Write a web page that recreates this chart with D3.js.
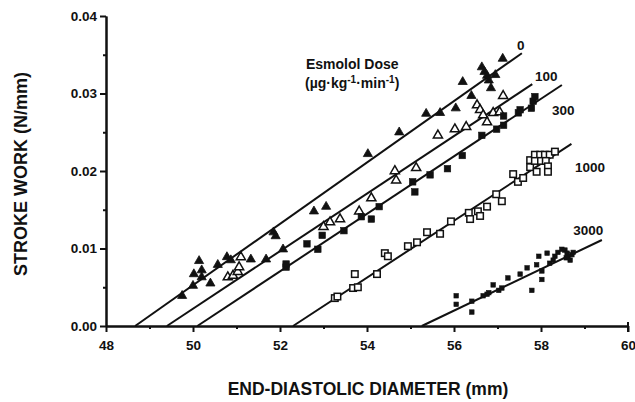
<!DOCTYPE html>
<html><head><meta charset="utf-8">
<script src="https://cdn.jsdelivr.net/npm/d3@7"></script>
<style>
body{margin:0;background:#fff;}
text{font-family:"Liberation Sans",Arial,sans-serif;fill:#111;}
</style></head>
<body><svg id="c" width="635" height="402"></svg>
<script>
// ---- Data ----
const doses = ["0","100","300","1000","3000"];
const xTicks = [48,50,52,54,56,58,60];
const yTicks = [0.00,0.01,0.02,0.03,0.04];

// dose 0: filled triangles [EDD mm, SW N/mm]
const dose0 = [[49.75,0.0039],[50.0,0.0052],[50.02,0.0067],[50.14,0.0084],[50.2,0.0072],[50.2,0.0063],[50.4,0.0055],
 [50.57,0.0079],[50.78,0.0089],[50.87,0.0085],[51.33,0.0086],[51.68,0.0086],[52.07,0.0099],[51.85,0.0121],[51.9,0.0116],
 [52.78,0.0148],[53.06,0.0154],[54.02,0.0222],[54.74,0.025],[55.36,0.0274],[55.68,0.0275],[56.04,0.0281],[56.2,0.0315],
 [56.4,0.0297],[56.64,0.0334],[56.7,0.0328],[56.76,0.0323],[56.8,0.0317],[56.95,0.0324],[57.12,0.0345],[56.85,0.0307]];
// dose 100: open triangles
const dose100 = [[50.8,0.0063],[50.92,0.0065],[51.03,0.007],[51.06,0.0076],[51.1,0.0089],[53.0,0.0128],[53.15,0.0134],
 [53.38,0.0138],[53.82,0.0148],[54.1,0.0165],[54.64,0.02],[54.67,0.0188],[55.13,0.0204],[55.63,0.0246],[56.02,0.0254],
 [56.28,0.0257],[56.53,0.0285],[56.6,0.0279],[56.67,0.0272],[56.76,0.0263],[56.9,0.0275],[57.05,0.0276],[57.13,0.0297]];
// dose 300: filled squares
const dose300 = [[52.14,0.0076],[52.14,0.008],[52.62,0.0106],[52.87,0.0099],[52.97,0.0117],[53.47,0.0123],[53.87,0.0141],
 [54.1,0.0138],[54.28,0.0154],[55.05,0.0186],[55.1,0.0173],[55.45,0.0195],[55.85,0.0203],[56.19,0.022],[56.64,0.0246],
 [56.98,0.0254],[57.14,0.0259],[57.14,0.0271],[57.48,0.0275],[57.52,0.0279],[57.78,0.0281],[57.82,0.029],[57.86,0.0296]];
// dose 1000: open squares
const dose1000 = [[53.26,0.0036],[53.32,0.0038],[53.68,0.0049],[53.79,0.005],[53.72,0.0067],[54.23,0.0067],[54.41,0.0094],
 [54.48,0.009],[54.94,0.0103],[55.15,0.0108],[55.38,0.0121],[55.68,0.0119],[55.93,0.0135],[56.34,0.0146],[56.37,0.0138],
 [56.55,0.0148],[56.6,0.0142],[56.76,0.0154],[56.97,0.017],[57.1,0.0161],[57.36,0.0196],[57.47,0.0186],[57.59,0.0191],
 [57.75,0.0214],[57.86,0.0221],[57.98,0.0221],[58.09,0.0221],[58.2,0.0221],[58.32,0.0225],[57.75,0.0205],[57.86,0.0213],
 [58.0,0.0213],[58.11,0.0213],[58.16,0.0206],[57.9,0.0199],[58.16,0.0199]];
// dose 3000: small filled squares
const dose3000 = [[56.05,0.0039],[56.05,0.0028],[56.41,0.0032],[56.41,0.0018],[56.67,0.0039],[56.76,0.0041],[56.8,0.0043],
 [56.9,0.0053],[57.03,0.0046],[57.1,0.0049],[57.24,0.0062],[57.52,0.0067],[57.68,0.0075],[57.9,0.0079],[57.79,0.0046],
 [57.95,0.009],[58.02,0.0071],[58.02,0.006],[58.14,0.0094],[58.2,0.0081],[58.28,0.0085],[58.32,0.009],[58.39,0.0095],
 [58.48,0.0099],[58.55,0.0098],[58.6,0.0094],[58.62,0.0089],[58.71,0.0092],[58.74,0.0095],[58.67,0.0085],[58.58,0.0088]];

// regression lines per dose: [x0, y0, x1, y1]
const fitLines = [[48.67,0,57.56,0.0352],[49.4,0,57.8,0.0312],[50.1,0,58.48,0.0311],[52.3,0,58.7,0.0235],[55.26,0,59.4,0.0111]];
// dose-label anchor points (data units, baseline-left)
const labelPos = [[57.45,0.0356],[57.86,0.0316],[58.25,0.0272],[58.78,0.0199],[58.74,0.0117]];

// ---- Chart ----
const svg = d3.select("#c");
const x = d3.scaleLinear().domain([48,60]).range([106,628]);
const y = d3.scaleLinear().domain([0,0.04]).range([326,16]);

// axes
const yAxis = svg.append("g").attr("transform","translate(106,0)")
  .call(d3.axisLeft(y).tickValues(yTicks).tickFormat(d3.format(".2f")).tickSize(6).tickSizeOuter(0).tickPadding(3));
const yMinor = svg.append("g").attr("transform","translate(106,0)")
  .call(d3.axisLeft(y).tickValues([0.005,0.015,0.025,0.035]).tickFormat("").tickSize(3).tickSizeOuter(0));
const xAxis = svg.append("g").attr("transform","translate(0,326)")
  .call(d3.axisBottom(x).tickValues(xTicks).tickFormat(d3.format("d")).tickSize(6).tickSizeOuter(0).tickPadding(8));
const xMinor = svg.append("g").attr("transform","translate(0,326)")
  .call(d3.axisBottom(x).tickValues([49,51,53,55,57,59]).tickFormat("").tickSize(3).tickSizeOuter(0));
[yAxis,yMinor,xAxis,xMinor].forEach(g=>{
  g.selectAll("path.domain").attr("stroke","#111").attr("stroke-width",2);
  g.selectAll("line").attr("stroke","#111").attr("stroke-width",2);
  g.selectAll("text").style("font-size","13.5px").style("font-weight","bold").attr("fill","#111");
});
// end cap at x=60
svg.append("line").attr("x1",x(60)).attr("x2",x(60)).attr("y1",y(0)-4).attr("y2",y(0)+6)
  .attr("stroke","#111").attr("stroke-width",2);

// axis titles
svg.append("text").attr("x",368).attr("y",395).attr("text-anchor","middle")
  .style("font-size","17.5px").style("font-weight","bold").text("END-DIASTOLIC DIAMETER (mm)");
svg.append("text").attr("transform","translate(27,174) rotate(-90)").attr("text-anchor","middle")
  .style("font-size","18px").style("font-weight","bold").text("STROKE WORK (N/mm)");

// fit lines
svg.append("g").selectAll("line").data(fitLines).join("line")
  .attr("x1",d=>x(d[0])).attr("y1",d=>y(d[1])).attr("x2",d=>x(d[2])).attr("y2",d=>y(d[3]))
  .attr("stroke","#111").attr("stroke-width",2);

// markers
const tri = d3.symbol().type(d3.symbolTriangle).size(36);
function drawTri(data, filled){
  svg.append("g").selectAll("path").data(data).join("path")
    .attr("d",tri).attr("transform",d=>`translate(${x(d[0])},${y(d[1])})`)
    .attr("fill",filled?"#111":"#fff").attr("stroke","#111").attr("stroke-width",filled?0.8:1.5);
}
function drawSq(data, filled, s){
  svg.append("g").selectAll("rect").data(data).join("rect")
    .attr("x",d=>x(d[0])-s/2).attr("y",d=>y(d[1])-s/2).attr("width",s).attr("height",s)
    .attr("fill",filled?"#111":"#fff").attr("stroke","#111").attr("stroke-width",filled?0.6:1.5);
}
drawTri(dose0,true);
drawTri(dose100,false);
drawSq(dose300,true,6.5);
drawSq(dose1000,false,6.5);
drawSq(dose3000,true,4.5);

// dose labels
svg.append("g").selectAll("text").data(doses).join("text")
  .attr("x",(d,i)=>x(labelPos[i][0])).attr("y",(d,i)=>y(labelPos[i][1]))
  .style("font-size","13.5px").style("font-weight","bold").text(d=>d);

// legend title
svg.append("text").attr("x",306).attr("y",69).style("font-size","14px").style("font-weight","bold").text("Esmolol Dose");
const t2 = svg.append("text").attr("x",305).attr("y",88).style("font-size","14px").style("font-weight","bold");
t2.append("tspan").text("(µg·kg");
t2.append("tspan").attr("dy",-5).style("font-size","10px").text("-1");
t2.append("tspan").attr("dy",5).text("·min");
t2.append("tspan").attr("dy",-5).style("font-size","10px").text("-1");
t2.append("tspan").attr("dy",5).text(")");
</script></body></html>
